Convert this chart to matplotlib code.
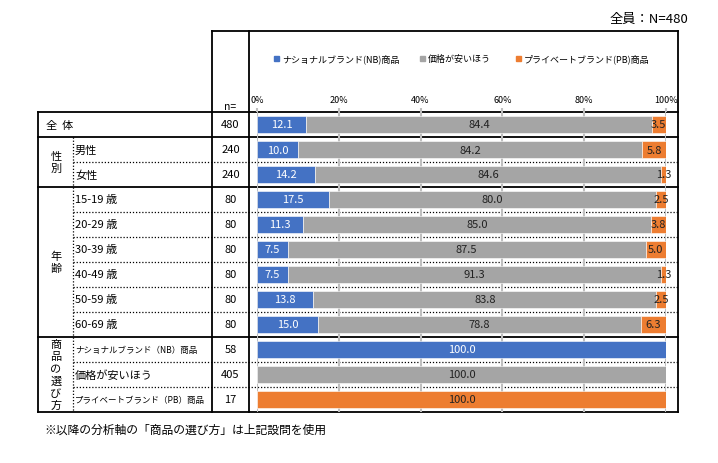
import numpy as np
import matplotlib
matplotlib.use("Agg")
import matplotlib.pyplot as plt

plt.rcParams["font.family"] = ["Noto Sans CJK JP", "DejaVu Sans"]

# ── data ─────────────────────────────────────────────────────────────────────
ROWS = ["全  体", "男性", "女性", "15-19 歳", "20-29 歳", "30-39 歳", "40-49 歳",
        "50-59 歳", "60-69 歳", "ナショナルブランド（NB）商品", "価格が安いほう",
        "プライベートブランド（PB）商品"]
N = [480, 240, 240, 80, 80, 80, 80, 80, 80, 58, 405, 17]
NB = [12.1, 10.0, 14.2, 17.5, 11.3, 7.5, 7.5, 13.8, 15.0, 100.0, 0, 0]
CHEAP = [84.4, 84.2, 84.6, 80.0, 85.0, 87.5, 91.3, 83.8, 78.8, 0, 100.0, 0]
PB = [3.5, 5.8, 1.3, 2.5, 3.8, 5.0, 1.3, 2.5, 6.3, 0, 0, 100.0]
SERIES = ["ナショナルブランド(NB)商品", "価格が安いほう", "プライベートブランド(PB)商品"]
GROUPS = [("性\n別", 1, 2), ("年\n齢", 3, 8), ("商\n品\nの\n選\nび\n方", 9, 11)]
TICKS = [0, 20, 40, 60, 80, 100]

BLUE, GRAY, ORANGE = "#4472C4", "#A5A5A5", "#ED7D31"
W, H = 718, 464
X0, XN, XN2, XR = 38, 212, 249, 678      # table column lines (px)
XSUB = 73
Y_TOP, Y0, RH = 32, 113, 25              # header top, first row top, row height
AX_L, AX_R = 257, 666                    # 0% .. 100%

fig = plt.figure(figsize=(W / 100, H / 100), dpi=100)
bg = fig.add_axes([0, 0, 1, 1]); bg.axis("off")
bg.set_xlim(0, W); bg.set_ylim(H, 0)

def hline(y, x1, x2, ls="-", lw=1.3):
    bg.plot([x1, x2], [y, y], color="black", lw=lw if ls == "-" else 0.9,
            ls=ls if ls == "-" else (0, (1, 1.5)), zorder=5)

def vline(x, y1, y2, ls="-", lw=1.3):
    bg.plot([x, x], [y1, y2], color="black", lw=lw if ls == "-" else 0.9,
            ls=ls if ls == "-" else (0, (1, 1.5)), zorder=5)

ybot = Y0 + RH * len(ROWS)
# header box
hline(Y_TOP, XN, XR)
for x in (XN, XN2, XR):
    vline(x, Y_TOP, ybot)
vline(X0, Y0, ybot)
# solid separators
for r in (0, 1, 3, 9, 12):
    hline(Y0 + RH * r, X0, XR)
# dotted sub-row separators and sub-label divider
for name, a, b in GROUPS:
    vline(XSUB, Y0 + RH * a, Y0 + RH * (b + 1), ls=":")
    for r in range(a + 1, b + 1):
        hline(Y0 + RH * r, XSUB, XR, ls=":")
    yc = Y0 + RH * (a + b + 1) / 2
    bg.text(56, yc, name, ha="center", va="center", fontsize=8, linespacing=1.25)

for i, (lab, n) in enumerate(zip(ROWS, N)):
    yc = Y0 + RH * (i + 0.5)
    fs = 6.1 if "ブランド" in lab else 8
    bg.text(46 if i == 0 else 75, yc, lab, ha="left", va="center", fontsize=fs)
    bg.text((XN + XN2) / 2, yc, str(n), ha="center", va="center", fontsize=8)

bg.text(230, 107, "n=", ha="center", va="center", fontsize=7.5)
bg.text(688, 19, "全員：N=480", ha="right", va="center", fontsize=9.5)
bg.text(44, 430, "※以降の分析軸の「商品の選び方」は上記設問を使用", ha="left", va="center", fontsize=8.5)

# legend
for x, lab, c in zip((274, 420, 516), SERIES, (BLUE, GRAY, ORANGE)):
    bg.add_patch(plt.Rectangle((x, 57), 5, 5, color=c, zorder=5))
    bg.text(x + 8, 59.5, lab, ha="left", va="center", fontsize=6.5)

# ── bars ─────────────────────────────────────────────────────────────────────
ax = fig.add_axes([AX_L / W, (H - ybot) / H, (AX_R - AX_L) / W, RH * len(ROWS) / H])
ax.patch.set_alpha(0)
ax.set_xlim(0, 100); ax.set_ylim(len(ROWS) - 0.5, -0.5)
for s in ax.spines.values():
    s.set_visible(False)
ax.set_yticks([])
ax.xaxis.tick_top()
ax.set_xticks(TICKS)
ax.set_xticklabels([f"{t}%" for t in TICKS], fontsize=6.5)
ax.tick_params(axis="x", length=3, width=1.5, color="#BFBFBF", pad=3)
for t in TICKS:
    ax.axvline(t, color="#BFBFBF", lw=1.5, zorder=0)

y = np.arange(len(ROWS))
nb, ch, pb = np.array(NB), np.array(CHEAP), np.array(PB)
hb = 17 / RH
ax.barh(y, nb, height=hb, color=BLUE, edgecolor="white", lw=0.4, zorder=2)
ax.barh(y, ch, left=nb, height=hb, color=GRAY, edgecolor="white", lw=0.4, zorder=2)
ax.barh(y, pb, left=nb + ch, height=hb, color=ORANGE, edgecolor="white", lw=0.4, zorder=2)

for i in y:
    if nb[i] > 0:
        ax.text(nb[i] / 2, i, f"{nb[i]:.1f}", ha="center", va="center", fontsize=8, color="white", zorder=3)
    if ch[i] > 0:
        ax.text(nb[i] + ch[i] / 2, i, f"{ch[i]:.1f}", ha="center", va="center", fontsize=8, color="#222222", zorder=3)
    if pb[i] > 0:
        ax.text(nb[i] + ch[i] + pb[i] / 2, i, f"{pb[i]:.1f}", ha="center", va="center", fontsize=8,
                color="#222222", zorder=3)

fig.savefig("out.png", dpi=100)
